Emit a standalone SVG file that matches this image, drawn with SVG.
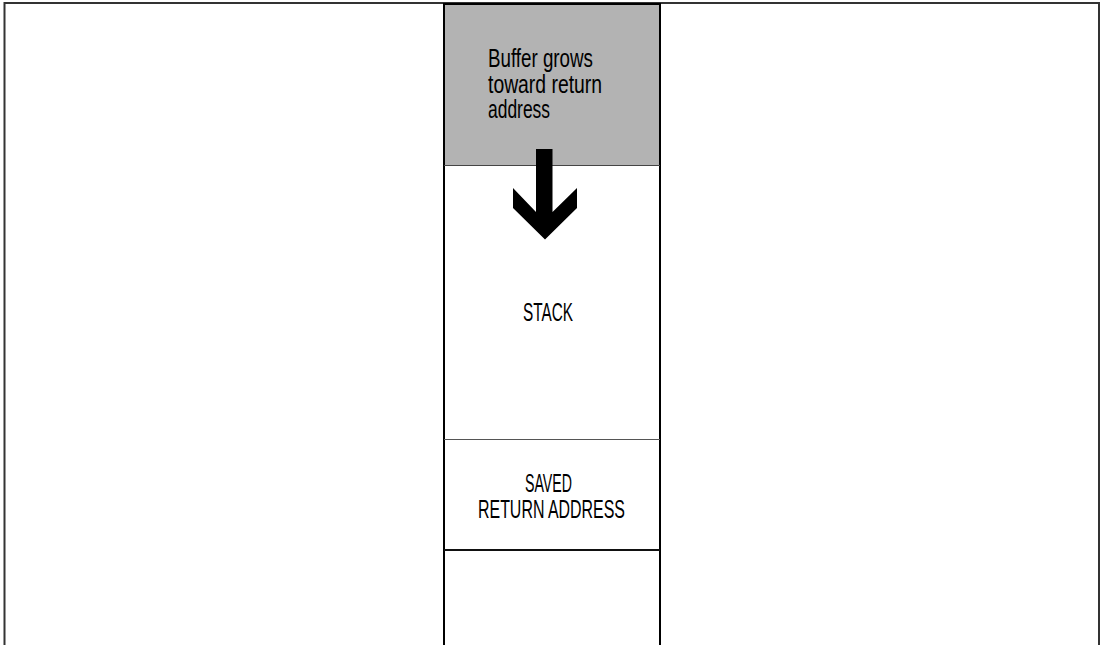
<svg xmlns="http://www.w3.org/2000/svg" width="1100" height="645" viewBox="0 0 1100 645">
  <style>
    .lbl { font-family: "Liberation Sans", Arial, sans-serif; font-size: 25px; fill: #000; }
    .mid { text-anchor: middle; }
  </style>
  <rect x="0" y="0" width="1100" height="645" fill="#fff"/>
  <g id="frame">
    <rect x="4.5" y="3" width="1094.5" height="700" fill="none" stroke="#333" stroke-width="2"/>
  </g>
  <g id="column">
    <rect id="buffer" x="444" y="4" width="216" height="161.5" fill="#b3b3b3"/>
    <rect x="444" y="4" width="216" height="700" fill="none" stroke="#000" stroke-width="2"/>
    <line x1="444" y1="165.5" x2="660" y2="165.5" stroke="#444" stroke-width="1.2"/>
    <line x1="444" y1="439.5" x2="660" y2="439.5" stroke="#555" stroke-width="1.2"/>
    <line x1="444" y1="550" x2="660" y2="550" stroke="#111" stroke-width="2"/>
  </g>
  <g id="buffer-label">
    <text class="lbl" x="488" y="67" textLength="105" lengthAdjust="spacingAndGlyphs">Buffer grows</text>
    <text class="lbl" x="488" y="92.5" textLength="114" lengthAdjust="spacingAndGlyphs">toward return</text>
    <text class="lbl" x="488" y="118" textLength="62" lengthAdjust="spacingAndGlyphs">address</text>
  </g>
  <g id="stack">
    <text class="lbl mid" x="548" y="320.5" textLength="50" lengthAdjust="spacingAndGlyphs">STACK</text>
  </g>
  <g id="saved-return-address">
    <text class="lbl mid" x="548.5" y="491.5" textLength="47" lengthAdjust="spacingAndGlyphs">SAVED</text>
    <text class="lbl mid" x="551.5" y="518.3" textLength="147" lengthAdjust="spacingAndGlyphs">RETURN ADDRESS</text>
  </g>
  <g id="connectors">
    <polygon points="536,149 552.5,149 552.5,212 577,188 577,208 545,239.5 513,208 513,188 536,212" fill="#000"/>
  </g>
</svg>
